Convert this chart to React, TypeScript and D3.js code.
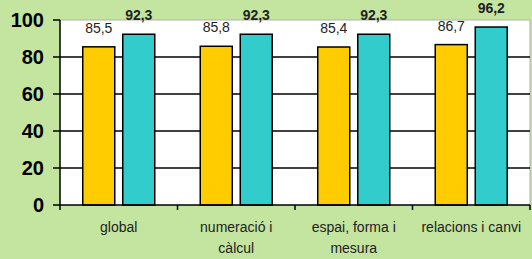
import React from 'react'
import * as d3 from 'd3'

// category labels, wrapped the way the original chart wraps them
const categories = ['global', 'numeració i\ncàlcul', 'espai, forma i\nmesura', 'relacions i canvi']
const seriesNames = ['a', 'b']
const valuesA = [85.5, 85.8, 85.4, 86.7]
const valuesB = [92.3, 92.3, 92.3, 96.2]
const yTicks = [0, 20, 40, 60, 80, 100]

const W = 532
const H = 259
const margin = { top: 20, right: 2, bottom: 54, left: 60 }

const COLORS = { a: '#ffcc00', b: '#33cccc', bg: '#c4e5a0' }

const fmt = (v: number) => v.toFixed(1).replace('.', ',')

export default function App() {
  const x0 = d3.scaleBand<string>()
    .domain(categories)
    .range([margin.left, W - margin.right])
    .padding(0)

  const groupPad = 22.75
  const x1 = d3.scaleBand<string>()
    .domain(seriesNames)
    .range([groupPad, x0.bandwidth() - groupPad])
    .paddingInner(0.2)

  const y = d3.scaleLinear()
    .domain([0, 100])
    .range([H - margin.bottom, margin.top])

  const series = [
    { key: 'a', values: valuesA, bold: false },
    { key: 'b', values: valuesB, bold: true },
  ]

  const plotRight = W - margin.right

  return (
    <>
      <style>{`body{margin:0}`}</style>
      <svg width={W} height={H} style={{ display: 'block', fontFamily: '"Liberation Sans", Arial, sans-serif' }}>
        <rect x={0} y={0} width={W} height={H} fill={COLORS.bg} />
        <rect x={margin.left} y={y(100)} width={plotRight - margin.left} height={y(0) - y(100)} fill="#ffffff" />
        {/* plot border top / right */}
        <line x1={margin.left} x2={plotRight} y1={y(100)} y2={y(100)} stroke="#b0b0b0" strokeWidth={1} />
        <line x1={plotRight} x2={plotRight} y1={y(100)} y2={y(0)} stroke="#b0b0b0" strokeWidth={1} />

        {/* grid */}
        {yTicks.filter(t => t > 0 && t < 100).map(t => (
          <line key={t} x1={margin.left} x2={plotRight} y1={y(t)} y2={y(t)} stroke="#000" strokeWidth={1.5} />
        ))}

        {/* bars */}
        {categories.map((c, i) => (
          <g key={c} transform={`translate(${x0(c)},0)`}>
            {series.map(s => (
              <g key={s.key}>
                <rect
                  x={x1(s.key)}
                  y={y(s.values[i])}
                  width={x1.bandwidth()}
                  height={y(0) - y(s.values[i])}
                  fill={COLORS[s.key as 'a' | 'b']}
                  stroke="#000"
                  strokeWidth={1.5}
                />
                <text
                  x={(x1(s.key) as number) + x1.bandwidth() / 2}
                  y={y(s.values[i]) - 14}
                  textAnchor="middle"
                  fontSize={14}
                  fontWeight={s.bold ? 'bold' : 'normal'}
                  fill="#222"
                >
                  {fmt(s.values[i])}
                </text>
              </g>
            ))}
          </g>
        ))}

        {/* y axis */}
        <line x1={margin.left} x2={margin.left} y1={y(100)} y2={y(0)} stroke="#000" strokeWidth={1.5} />
        {yTicks.map(t => (
          <g key={t}>
            <line x1={margin.left - 7} x2={margin.left} y1={y(t)} y2={y(t)} stroke="#000" strokeWidth={1.5} />
            <text x={margin.left - 16} y={y(t)} dy="0.36em" textAnchor="end" fontSize={20} fontWeight="bold" fill="#000">
              {t}
            </text>
          </g>
        ))}

        {/* x axis */}
        <line x1={margin.left} x2={plotRight} y1={y(0)} y2={y(0)} stroke="#000" strokeWidth={1.5} />
        {[...categories.map(c => x0(c) as number), plotRight].map((tx, i) => (
          <line key={i} x1={tx} x2={tx} y1={y(0)} y2={y(0) + 5} stroke="#000" strokeWidth={1.5} />
        ))}
        {categories.map(c => (
          <text key={c} textAnchor="middle" fontSize={14} fill="#222">
            {c.split('\n').map((line, li) => (
              <tspan key={li} x={(x0(c) as number) + x0.bandwidth() / 2} y={y(0) + 27 + li * 21}>{line}</tspan>
            ))}
          </text>
        ))}
      </svg>
    </>
  )
}
